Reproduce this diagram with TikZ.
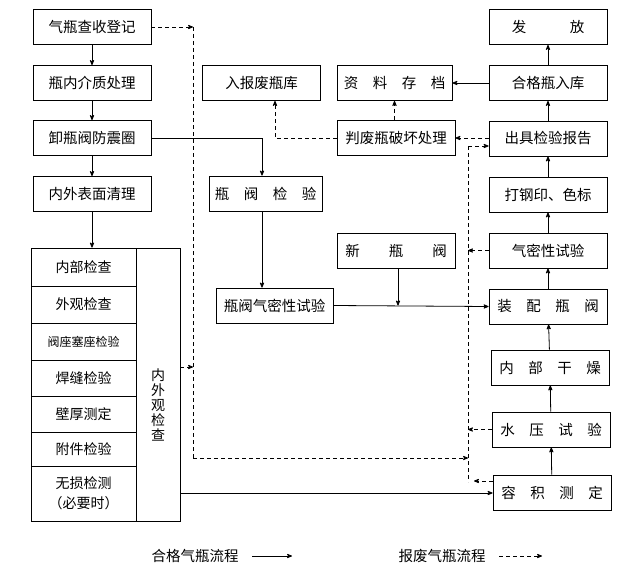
\documentclass[tikz,border=0pt]{standalone}
\usepackage{fontspec}
\setmainfont{Noto Sans CJK SC}
\usepackage{tikz}
\usetikzlibrary{arrows}

\begin{document}
\begin{tikzpicture}
      [
        x=1pt, y=-1pt,
        box/.style={draw, thick, minimum width=118pt, minimum height=35pt, inner sep=0pt, font=\fontsize{14.5pt}{16pt}\selectfont},
        cell/.style={draw, thick, minimum width=105pt, inner sep=0pt, font=\fontsize{14pt}{20pt}\selectfont, align=center},
        ok/.style={thick, ->, >=stealth'},
        bad/.style={thick, dash pattern=on 4pt off 3pt, ->, >=stealth'}
      ]
      \useasboundingbox (0,0) rectangle (644,583);
      % left column
      \node [box] (reg)  at (92,27)  {气瓶查收登记};
      \node [box] (med)  at (92,83)  {瓶内介质处理};
      \node [box] (rem)  at (92,138) {卸瓶阀防震圈};
      \node [box] (cln)  at (92,194) {内外表面清理};
      % inspection group
      \node [cell, minimum height=38pt] (c1) at (83.5,267)   {内部检查};
      \node [cell, minimum height=37pt] (c2) at (83.5,304.5) {外观检查};
      \node [cell, minimum height=37pt, font=\fontsize{12pt}{14pt}\selectfont] (c3) at (83.5,341.5) {阀座塞座检验};
      \node [cell, minimum height=36pt] (c4) at (83.5,378)   {焊缝检验};
      \node [cell, minimum height=36pt] (c5) at (83.5,414)   {壁厚测定};
      \node [cell, minimum height=34pt] (c6) at (83.5,449)   {附件检验};
      \node [cell, minimum height=55pt] (c7) at (83.5,493.5) {无损检测\\（必要时）};
      \node [draw, thick, minimum width=44pt, minimum height=273pt, inner sep=0pt] (grp) at (158,384.5) {};
      \node [font=\fontsize{14pt}{15pt}\selectfont, align=center] (grpt) at (158,405) {内\\外\\观\\检\\查};
      % middle
      \node [box] (scr)  at (261.5,83)  {入报废瓶库};
      \node [box, minimum width=113pt] (vck) at (265.5,193.5) {瓶　阀　检　验};
      \node [box, minimum width=117pt] (vgt) at (274.5,305.5) {瓶阀气密性试验};
      \node [box, minimum width=115pt] (arc) at (394.5,83)  {资　料　存　档};
      \node [box] (dst)  at (396,138)  {判废瓶破坏处理};
      \node [box] (nvl)  at (396,250.5) {新　　瓶　　阀};
      % right column
      \node [box] (out)  at (548,27)  {发　　　放};
      \node [box] (stk)  at (548,83)  {合格瓶入库};
      \node [box] (rep)  at (548,138.5) {出具检验报告};
      \node [box] (stp)  at (548,194.5) {打钢印、色标};
      \node [box] (gas)  at (548,250.5) {气密性试验};
      \node [box] (asm)  at (548,306.5) {装　配　瓶　阀};
      \node [box] (dry)  at (550,367.5) {内　部　干　燥};
      \node [box] (hyd)  at (551,429.5) {水　压　试　验};
      \node [box] (vol)  at (552,492.5) {容　积　测　定};
      % dashed route corners
      \coordinate (d1) at (193,27);
      \coordinate (d2) at (193,458);
      \coordinate (d3) at (468,458);
      \coordinate (d4) at (468,146);
      \coordinate (d5) at (468,482);
      \coordinate (j1) at (398,305.5);
      % good flow
      \draw [ok] (reg) -- (med);
      \draw [ok] (med) -- (rem);
      \draw [ok] (rem) -- (cln);
      \draw [ok] (cln) -- (c1.north -| cln);
      \draw [ok] (rem.east) -| (vck.north -| 262,0);
      \draw [ok] (vck.south -| 262,0) -- (vgt.north -| 262,0);
      \draw [ok] (vgt.east) -- (asm.west);
      \draw [ok] (nvl.south -| j1) -- (j1);
      \draw [ok] (grp.east |- 0,493) -- (vol.west |- 0,493);
      \draw [ok] (vol) -- (hyd);
      \draw [ok] (hyd) -- (dry);
      \draw [ok] (dry) -- (asm);
      \draw [ok] (asm) -- (gas);
      \draw [ok] (gas) -- (stp);
      \draw [ok] (stp) -- (rep);
      \draw [ok] (rep) -- (stk);
      \draw [ok] (stk) -- (out);
      \draw [ok] (stk.west) -- (arc.east);
      % scrap flow
      \draw [bad] (reg.east) -- (d1);
      \draw [bad, -] (d1) -- (d2);
      \draw [bad] (grp.east |- 0,367) -- (193,367);
      \draw [bad] (d2) -- (d3);
      \draw [bad, -] (d4) -- (d5);
      \draw [bad] (d4) -- (rep.west |- d4);
      \draw [bad] (gas.west) -- (468,250.5);
      \draw [bad] (hyd.west) -- (468,429.5);
      \draw [bad] (vol.west |- 0,481) -- (474,481);
      \draw [bad] (rep.west |- 0,138) -- (dst.east);
      \draw [bad] (dst.west) -| (scr.south -| 275,0);
      \draw [bad] (dst.north -| arc) -- (arc.south);
      % legend
      \node [font=\fontsize{14.5pt}{16pt}\selectfont] (lg1) at (195,556) {合格气瓶流程};
      \coordinate (la) at (292,556);
      \draw [ok] (lg1.east) ++(10,0) coordinate (lb) (lb) -- (la);
      \node [font=\fontsize{14.5pt}{16pt}\selectfont] (lg2) at (442,556) {报废气瓶流程};
      \coordinate (lc) at (542,556);
      \draw [bad] (lg2.east) ++(10,0) coordinate (ld) (ld) -- (lc);
\end{tikzpicture}
\end{document}
